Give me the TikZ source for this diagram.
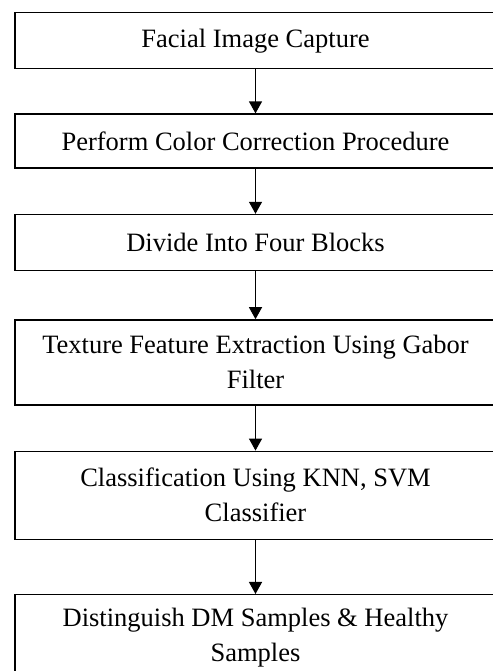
\documentclass[tikz,border=0pt]{standalone}
\usepackage{fontspec}
\setmainfont{Liberation Serif}
\usetikzlibrary{arrows.meta, positioning}

\begin{document}
\begin{tikzpicture}[
  x=1pt, y=1pt,
  node distance=44pt,
  stage/.style={
    rectangle, draw=black, line width=1.4pt,
    minimum width=481pt, minimum height=#1, inner sep=0pt,
    align=center, font=\fontsize{26.5}{35}\selectfont,
  },
  stage/.default=56pt,
  arrow/.style={-{Triangle[length=12pt, width=13pt]}, line width=1.3pt},
]
\useasboundingbox (0,0) rectangle (492,671);

% Stages
\node[stage, anchor=north] (capture) at (255.5,659) {Facial Image Capture};
\node[stage=54pt, below=of capture] (color) {Perform Color Correction Procedure};
\node[stage, below=45pt of color] (divide) {Divide Into Four Blocks};
\node[stage=85pt, below=48pt of divide] (texture) {Texture Feature Extraction Using Gabor\\Filter};
\node[stage=88pt, below=45pt of texture] (classify) {Classification Using KNN, SVM\\Classifier};
\node[stage=86pt, below=54pt of classify] (result) {Distinguish DM Samples \& Healthy\\Samples};

% Arrows
\draw[arrow] (capture) -- (color);
\draw[arrow] (color) -- (divide);
\draw[arrow] (divide) -- (texture);
\draw[arrow] (texture) -- (classify);
\draw[arrow] (classify) -- (result);

\end{tikzpicture}
\end{document}
